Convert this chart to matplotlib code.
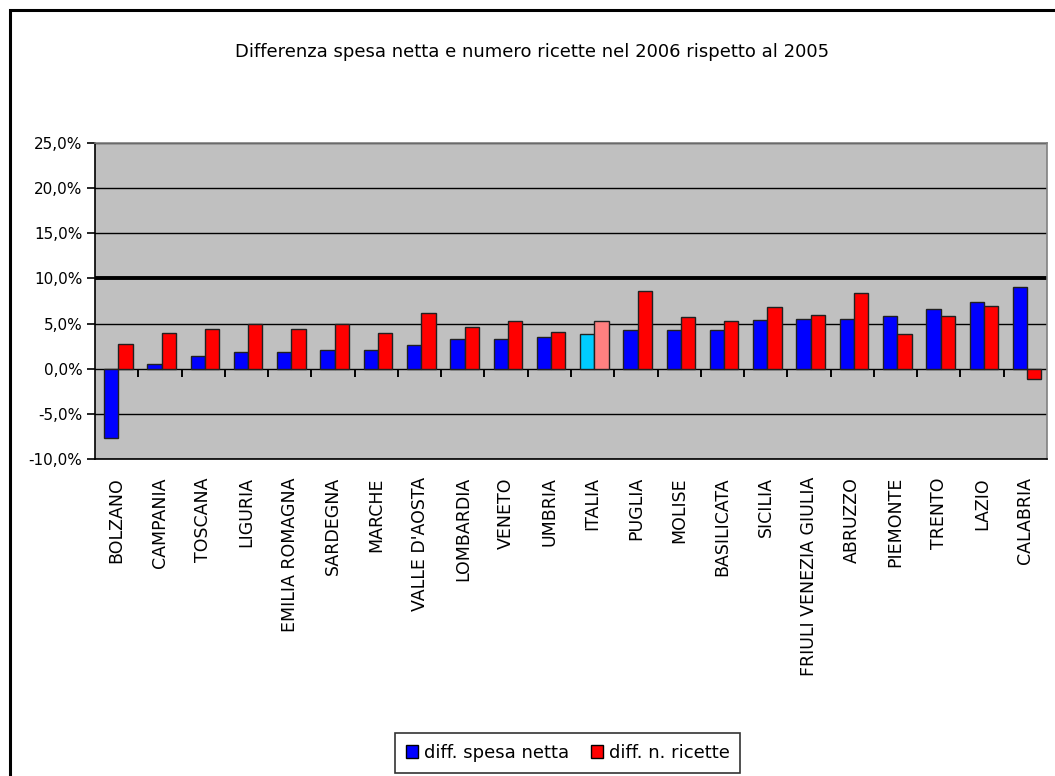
import matplotlib
matplotlib.use("Agg")
import matplotlib.pyplot as plt
import numpy as np
from matplotlib.ticker import FuncFormatter, NullFormatter
from matplotlib.patches import Rectangle, Patch

plt.rcParams['font.family'] = ['DejaVu Sans']

regions = ["BOLZANO", "CAMPANIA", "TOSCANA", "LIGURIA", "EMILIA ROMAGNA", "SARDEGNA",
           "MARCHE", "VALLE D'AOSTA", "LOMBARDIA", "VENETO", "UMBRIA", "ITALIA",
           "PUGLIA", "MOLISE", "BASILICATA", "SICILIA", "FRIULI VENEZIA GIULIA",
           "ABRUZZO", "PIEMONTE", "TRENTO", "LAZIO", "CALABRIA"]
spesa = [-7.7, 0.55, 1.4, 1.85, 1.85, 2.1, 2.1, 2.65, 3.3, 3.3, 3.5, 3.9,
         4.3, 4.3, 4.3, 5.4, 5.55, 5.55, 5.8, 6.6, 7.4, 9.1]
ricette = [2.7, 4.0, 4.4, 5.0, 4.4, 5.0, 4.0, 6.2, 4.6, 5.3, 4.1, 5.3,
           8.6, 5.7, 5.3, 6.8, 6.0, 8.4, 3.9, 5.8, 7.0, -1.1]
series_names = ["diff. spesa netta", "diff. n. ricette"]
title = "Differenza spesa netta e numero ricette nel 2006 rispetto al 2005"
yticks = [-10, -5, 0, 5, 10, 15, 20, 25]
ymin, ymax = -10, 25

fig = plt.figure(figsize=(10.55, 7.76), dpi=100)
ax = fig.add_axes([95/1055, 1-459/776, 952/1055, 316/776])
ax.set_facecolor("#C0C0C0")

n = len(regions)
x = np.arange(n)
w = 0.33
c1 = ["#00CCFF" if r == "ITALIA" else "#0000FF" for r in regions]
c2 = ["#FF8080" if r == "ITALIA" else "#FF0000" for r in regions]

for yv in yticks:
    ax.axhline(yv, color="black", lw=2.8 if yv == 10 else 1.0, zorder=1)

ax.bar(x - w/2 + 0.04, spesa, w, color=c1, edgecolor="#202020", linewidth=1.0, zorder=3)
ax.bar(x + w/2 + 0.04, ricette, w, color=c2, edgecolor="#202020", linewidth=1.0, zorder=3)

ax.set_xlim(-0.5, n - 0.5)
ax.set_ylim(ymin, ymax)
ax.set_yticks(yticks)
ax.yaxis.set_major_formatter(FuncFormatter(lambda v, p: f"{v:.1f}%".replace(".", ",")))
ax.set_xticks(x)
ax.set_xticklabels(regions, rotation=90, fontsize=12.5, va="top")
ax.tick_params(axis="x", which="major", length=0, pad=13)
ax.tick_params(axis="y", length=6, width=1.2, direction="out", labelsize=11, pad=3)

# category axis crossing at zero with ticks between categories
sec = ax.secondary_xaxis((0 - ymin) / (ymax - ymin))
sec.set_xticks(np.arange(0.5, n - 0.5, 1))
sec.xaxis.set_major_formatter(NullFormatter())
sec.tick_params(axis="x", length=6, width=1.4, direction="out", color="black")
sec.spines["bottom"].set_visible(False)

for s in ax.spines.values():
    s.set_color("#808080")
    s.set_linewidth(1.2)
ax.spines["left"].set_color("black")
ax.spines["bottom"].set_color("black")

fig.text(532/1055, 1-52/776, title, ha="center", va="center", fontsize=13)

# figure border
fig.add_artist(Rectangle((10/1055, -0.1), 1.2, 1-10/776+0.1, transform=fig.transFigure,
                         fill=False, edgecolor="black", lw=2.2))

handles = [Patch(facecolor="#0000FF", edgecolor="black"), Patch(facecolor="#FF0000", edgecolor="black")]
leg = fig.legend(handles, series_names, loc="upper left", bbox_to_anchor=(395/1055, 1-733/776),
                 ncol=2, fontsize=13, frameon=True, fancybox=False, edgecolor="black",
                 handlelength=0.7, handleheight=0.7, handletextpad=0.3, columnspacing=1.2,
                 borderpad=0.6, borderaxespad=0)
leg.get_frame().set_linewidth(1.2)

fig.savefig("out.png", dpi=100)
